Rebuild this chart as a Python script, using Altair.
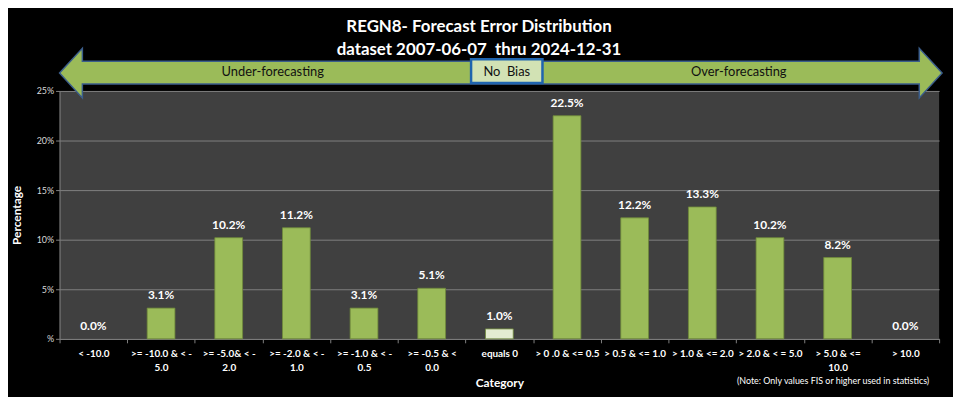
import altair as alt
import pandas as pd

categories = [
    "< -10.0", ">= -10.0 & < -|5.0", ">= -5.0& < -|2.0", ">= -2.0 & < -|1.0",
    ">= -1.0 & < -|0.5", ">= -0.5 & <|0.0", "equals 0", "> 0 .0 & <= 0.5",
    "> 0.5 & <= 1.0", "> 1.0 & <= 2.0", "> 2.0 & < = 5.0", "> 5.0 & <=|10.0", "> 10.0",
]
values = [0.0, 3.1, 10.2, 11.2, 3.1, 5.1, 1.0, 22.5, 12.2, 13.3, 10.2, 8.2, 0.0]
kinds = ["bias"] * 6 + ["zero"] + ["bias"] * 6
y_ticks = [0, 5, 10, 15, 20, 25]
title_lines = ["REGN8- Forecast Error Distribution",
               "dataset 2007-06-07\u00a0 thru 2024-12-31"]
arrow_labels = ["Under-forecasting", "No\u00a0 Bias", "Over-forecasting"]
note_text = "(Note: Only values FIS or higher used in statistics)"

FONT = "Lato"
W, H = 887, 250

df = pd.DataFrame({"cat": categories, "val": values, "kind": kinds})

base = alt.Chart(df)

bars = base.mark_bar(size=28, stroke="#6F8A3A", strokeWidth=0.8).encode(
    x=alt.X("cat:N", sort=categories, title="Category",
            scale=alt.Scale(paddingInner=0, paddingOuter=0),
            axis=alt.Axis(labelExpr="split(datum.label, '|')", labelAngle=0,
                          labelColor="white", labelFontSize=10, labelFontWeight="bold",
                          labelFont=FONT, labelLimit=200, labelLineHeight=14,
                          labelPadding=6, tickBand="extent", tickColor="#808080",
                          tickSize=4, domainColor="#808080",
                          titleColor="white", titleFontSize=12, titleFont=FONT,
                          titleFontWeight="bold", titlePadding=5)),
    y=alt.Y("val:Q", title="Percentage",
            scale=alt.Scale(domain=[0, 25], nice=False),
            axis=alt.Axis(values=y_ticks,
                          labelExpr="datum.value == 0 ? '%' : datum.value + '%'",
                          labelColor="#D9D9D9", labelFontSize=9, labelFont=FONT,
                          gridColor="#7F7F7F", gridWidth=1, tickColor="#808080",
                          tickSize=4, domainColor="#808080",
                          titleColor="white", titleFontSize=12, titleFont=FONT,
                          titleFontWeight="bold", titlePadding=13)),
    color=alt.Color("kind:N", scale=alt.Scale(domain=["bias", "zero"],
                                              range=["#9BBB59", "#E4ECD2"]),
                    legend=None),
    strokeOpacity=alt.condition("datum.val > 0", alt.value(1), alt.value(0)),
)

labels = base.transform_calculate(
    lab="format(datum.val, '.1f') + '%'"
).mark_text(dy=-6, color="white", fontSize=12, fontWeight="bold", font=FONT,
            baseline="bottom").encode(
    x=alt.X("cat:N", sort=categories),
    y="val:Q",
    text="lab:N",
)

one = alt.Data(values=[{}])

arrow_path = ("M -445 0 L -422 -25 L -422 -12 L 422 -12 L 422 -25 L 445 0 "
              "L 422 25 L 422 11 L -422 11 L -422 25 Z")
arrow = alt.Chart(one).mark_point(
    shape=arrow_path, size=4, filled=True, fill="#9BBB59", stroke="#3B5E8C",
    strokeWidth=1.5, opacity=1
).encode(x=alt.value(445), y=alt.value(-18))

nobias = alt.Chart(one).mark_rect(
    fill="#D2E2B4", stroke="#1F64AE", strokeWidth=2.5
).encode(x=alt.value(415), x2=alt.value(487), y=alt.value(-32), y2=alt.value(-8))

arrow_text = alt.Chart(pd.DataFrame({
    "t": arrow_labels,
    "px": [215, 451, 685],
})).mark_text(fontSize=13, font=FONT, color="#111111").encode(
    x=alt.X("px:Q", scale=None), y=alt.value(-19), text="t:N")

title = alt.Chart(pd.DataFrame({
    "t": title_lines,
    "py": [-64, -41],
})).mark_text(fontSize=17, font=FONT, fontWeight="bold", color="white").encode(
    x=alt.value(423), y=alt.Y("py:Q", scale=None), text="t:N")

note = alt.Chart(one).mark_text(
    text=note_text, fontSize=9, font=FONT, color="white", align="right"
).encode(x=alt.value(877), y=alt.value(293))

chart = alt.layer(bars, labels, arrow, nobias, arrow_text, title, note).properties(
    width=W, height=H,
    autosize=alt.AutoSizeParams(type="none"),
    padding={"left": 52, "top": 82, "right": 14, "bottom": 57},
    background="black",
).configure_view(fill="#404040", stroke=None)

chart.save("out.html", embed_options={"renderer": "svg", "actions": False})
